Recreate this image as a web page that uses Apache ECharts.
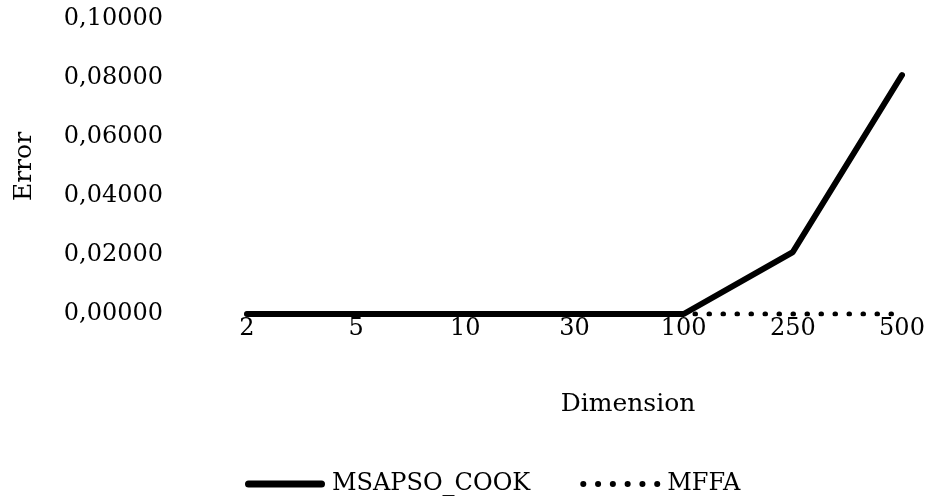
<!DOCTYPE html>
<html><head><meta charset="utf-8">
<script src="https://cdn.jsdelivr.net/npm/echarts@6/dist/echarts.min.js"></script>
<style>html,body{margin:0;padding:0;background:#fff}#c{width:933px;height:499px}</style>
</head><body><div id="c"></div>
<script>
const categories = ['2','5','10','30','100','250','500'];
const msapsoCook = [0, 0, 0, 0, 0, 0.021, 0.081];
const mffa = [0, 0, 0, 0, 0, 0, 0];
const yTicks = [0, 0.02, 0.04, 0.06, 0.08, 0.10];

const FONT = 'DejaVu Serif';
const FS = 24;
function dots(n, step, r) {
  let p = 'path://';
  for (let i = 0; i < n; i++) {
    const cx = r + i * step;
    p += 'M' + (cx - r) + ',' + r + 'a' + r + ',' + r + ' 0 1,0 ' + (2 * r) + ',0a' + r + ',' + r + ' 0 1,0 ' + (-2 * r) + ',0Z';
  }
  return p;
}
const chart = echarts.init(document.getElementById('c'));
chart.setOption({
  animation: false,
  textStyle: {fontFamily: FONT, color: '#000'},
  grid: {left: 247, right: 31, top: 19, bottom: 185, containLabel: false},
  legend: {
    top: 467, left: 240, itemGap: 50, itemWidth: 80, itemHeight: 7,
    textStyle: {fontFamily: FONT, fontSize: FS, color: '#000', padding: [0, 0, 0, 2]},
    data: [
      {name: 'MSAPSO_COOK', icon: 'path://M3.5,0H76.5A3.5,3.5 0 0 1 76.5,7H3.5A3.5,3.5 0 0 1 3.5,0Z'},
      {name: 'MFFA', icon: dots(6, 14.6, 3)}
    ]
  },
  xAxis: {
    type: 'category', data: categories, boundaryGap: false,
    axisLine: {show: false}, axisTick: {show: false},
    axisLabel: {fontFamily: FONT, fontSize: FS, color: '#000', margin: 3},
    name: 'Dimension', nameLocation: 'middle', nameGap: 78,
    nameTextStyle: {fontFamily: FONT, fontSize: 25, color: '#000', padding: [0, 0, 0, 107]}
  },
  yAxis: {
    type: 'value', min: yTicks[0], max: yTicks[yTicks.length - 1], interval: 0.02,
    splitLine: {show: false}, axisLine: {show: false}, axisTick: {show: false},
    axisLabel: {fontFamily: FONT, fontSize: FS, color: '#000', margin: 84,
      formatter: v => v.toFixed(5).replace('.', ',')},
    name: 'Error', nameLocation: 'middle', nameGap: 210,
    nameTextStyle: {fontFamily: FONT, fontSize: 25, color: '#000'}
  },
  series: [
    {name: 'MFFA', type: 'line', data: mffa, symbol: 'none', z: 1,
     lineStyle: {color: '#000', width: 5, type: [0.5, 13.5], cap: 'round'},
     itemStyle: {color: '#000'}},
    {name: 'MSAPSO_COOK', type: 'line', data: msapsoCook, symbol: 'none', z: 2,
     lineStyle: {color: '#000', width: 6, cap: 'round', join: 'round'},
     itemStyle: {color: '#000'}}
  ]
});
</script></body></html>
